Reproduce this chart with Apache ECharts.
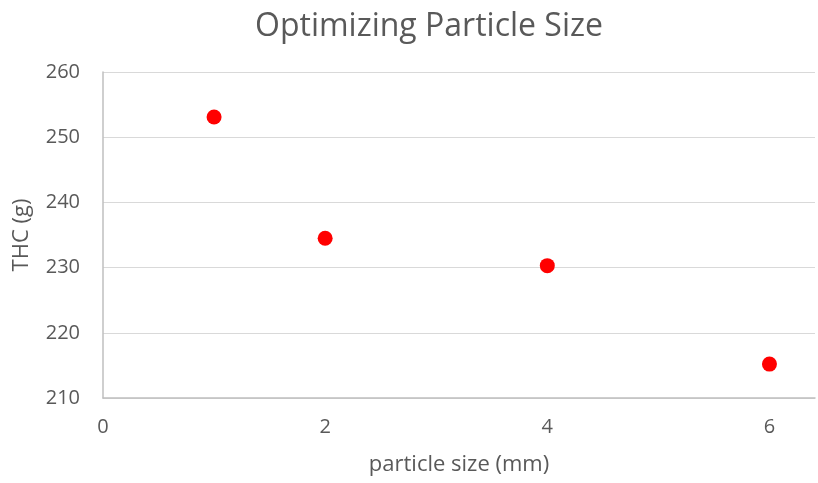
<!DOCTYPE html>
<html>
<head>
<meta charset="utf-8">
<script src="https://cdn.jsdelivr.net/npm/echarts@6/dist/echarts.min.js"></script>
<style>html,body{margin:0;padding:0;background:#fff;}#c{width:818px;height:483px;}</style>
</head>
<body>
<div id="c"></div>
<script>
const particleSize = [1, 2, 4, 6];
const thc = [253.1, 234.5, 230.3, 215.2];
const xTicks = [0, 2, 4, 6];
const yTicks = [210, 220, 230, 240, 250, 260];

const chart = echarts.init(document.getElementById('c'));
const font = '"Open Sans", "Noto Sans", sans-serif';
chart.setOption({
  animation: false,
  title: {
    text: 'Optimizing Particle Size',
    left: 250, top: 6,
    textStyle: { fontFamily: font, fontSize: 32, fontWeight: 'normal', color: '#595959' }
  },
  grid: { left: 103, right: 0, top: 72, bottom: 85 },
  xAxis: {
    type: 'value', min: 0, max: 6.41, interval: 2,
    name: 'particle size (mm)', nameLocation: 'middle', nameGap: 56,
    nameTextStyle: { fontFamily: font, fontSize: 22, color: '#595959' },
    axisLine: { show: true, lineStyle: { color: '#bfbfbf', width: 1.5 } },
    axisTick: { show: false },
    splitLine: { show: false },
    axisLabel: {
      fontFamily: font, fontSize: 20, color: '#595959', margin: 19,
      formatter: v => (xTicks.indexOf(v) >= 0 ? String(v) : '')
    }
  },
  yAxis: {
    type: 'value', min: yTicks[0], max: yTicks[yTicks.length - 1], interval: 10,
    name: 'THC (g)', nameLocation: 'middle', nameGap: 70, nameRotate: 90,
    nameTextStyle: { fontFamily: font, fontSize: 22, color: '#595959' },
    axisLine: { show: true, lineStyle: { color: '#bfbfbf', width: 1.5 } },
    axisTick: { show: false },
    splitLine: { lineStyle: { color: '#d9d9d9', width: 1.2 } },
    axisLabel: { fontFamily: font, fontSize: 20, color: '#595959', margin: 23 }
  },
  series: [{
    type: 'scatter',
    data: particleSize.map((x, i) => [x, thc[i]]),
    symbol: 'circle', symbolSize: 15,
    itemStyle: { color: '#ff0000', opacity: 1 }
  }]
});
</script>
</body>
</html>
